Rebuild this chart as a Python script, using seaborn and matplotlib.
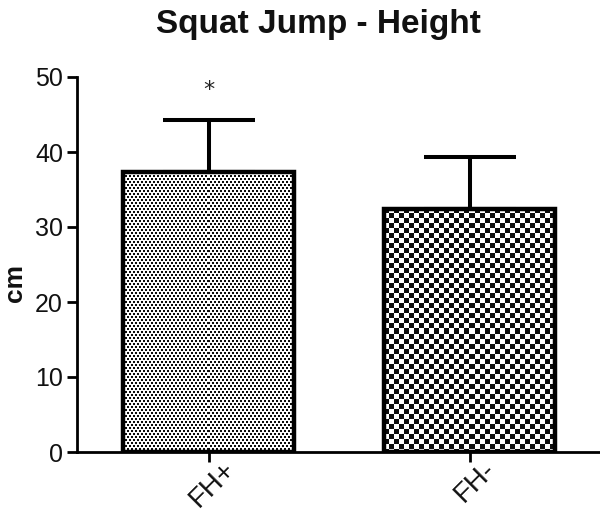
import matplotlib
matplotlib.use("Agg")
import matplotlib.pyplot as plt
import matplotlib.transforms as mtransforms
import seaborn as sns
import pandas as pd
import numpy as np

groups = ["FH+", "FH-"]
means = [37.3, 32.4]
sds = [7.0, 7.0]
patterns = ["dots", "checker"]
title = "Squat Jump - Height"
ylabel = "cm"
yticks = [0, 10, 20, 30, 40, 50]
sig_marks = ["*", ""]

sns.set_theme(style="ticks")
plt.rcParams["font.family"] = ["Liberation Sans", "DejaVu Sans"]

W, H = 600, 519
fig = plt.figure(figsize=(W / 100, H / 100), dpi=100)
ax = fig.add_axes([77 / W, 1 - 452 / H, 1 - 77 / W, 375 / H])

df = pd.DataFrame({"group": groups, "mean": means})
sns.barplot(data=df, x="group", y="mean", ax=ax, color="white",
            edgecolor="black", linewidth=3.2, width=0.657, errorbar=None,
            zorder=3)

ax.set_ylim(0, 50)
ax.set_xlim(-0.505, 1.5)

x = np.arange(len(groups))
ax.errorbar(x, means, yerr=[np.zeros(len(sds)), sds], fmt="none",
            ecolor="black", elinewidth=2.9, capsize=33, capthick=2.9, zorder=2)


def texture(kind, h, w):
    i, j = np.mgrid[0:h, 0:w]
    if kind == "dots":
        dark = (i % 3 < 2) & (((j + 2 * ((i // 3) % 2)) % 4) < 2)
    else:
        dark = ((i // 5) + (j // 5)) % 2 == 0
    return np.where(dark, 0.05, 1.0)


for patch, kind in zip(ax.patches, patterns):
    patch.set_facecolor("none")
    bb_px = patch.get_window_extent()
    bb = patch.get_bbox()
    img = texture(kind, int(round(bb_px.height)), int(round(bb_px.width)))
    im = ax.imshow(img, cmap="gray", vmin=0, vmax=1, interpolation="nearest",
                   extent=[bb.x0, bb.x1, bb.y0, bb.y1], aspect="auto",
                   origin="upper", zorder=2.8)
    im.set_clip_path(patch)

ax.set_ylim(0, 50)
ax.set_xlim(-0.505, 1.5)

for xi, m, s, t in zip(x, means, sds, sig_marks):
    if t:
        ax.text(xi, m + s + 4.0, t, ha="center", va="center", fontsize=16,
                family="DejaVu Sans", color="#222222")

ax.set_yticks(yticks)
fig.text(318 / W, 1 - 33 / H, title, ha="center", va="baseline",
         fontsize=24, fontweight="bold", color="#111111")
ax.set_ylabel(ylabel, fontsize=19, fontweight="bold", color="#111111")
ax.yaxis.set_label_coords(-0.096, 0.45)
ax.set_xlabel("")
ax.tick_params(axis="both", width=2, length=7, color="black",
               labelcolor="#111111", pad=3)
ax.tick_params(axis="y", labelsize=18)
ax.tick_params(axis="x", labelsize=20)
ax.set_xticks(x)
ax.set_xticklabels(groups, rotation=45, ha="right", rotation_mode="anchor")
offset = mtransforms.ScaledTranslation(13 / 100, 10 / 100, fig.dpi_scale_trans)
for lab in ax.get_xticklabels():
    lab.set_transform(lab.get_transform() + offset)
for sp in ["top", "right"]:
    ax.spines[sp].set_visible(False)
for sp in ["left", "bottom"]:
    ax.spines[sp].set_linewidth(2)
    ax.spines[sp].set_color("black")

fig.savefig("out.png", dpi=100)
